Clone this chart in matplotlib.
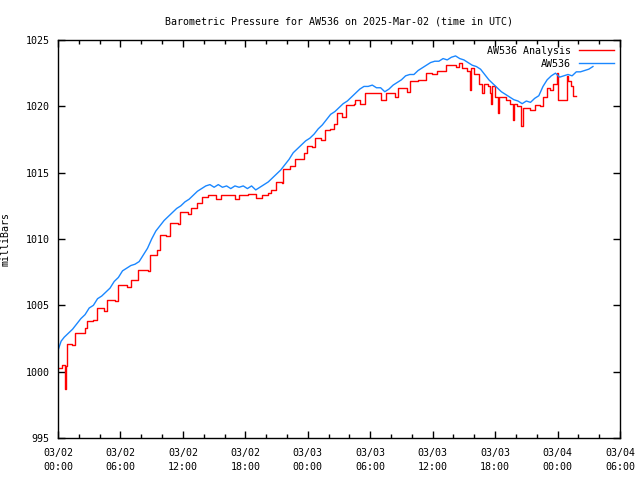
import numpy as np
import matplotlib
matplotlib.use('Agg')
import matplotlib.pyplot as plt
from matplotlib.ticker import MultipleLocator

# hours since 03/02 00:00 UTC, pressure in mb
obs_h = [0.0, 0.3, 0.6, 1.0, 1.4, 1.8, 2.2, 2.6, 3.0, 3.4, 3.8, 4.2, 4.6, 5.0, 5.4, 5.8,
         6.2, 6.6, 7.0, 7.4, 7.8, 8.2, 8.6, 9.0, 9.4, 9.8, 10.2, 10.6, 11.0, 11.4, 11.8,
         12.2, 12.6, 13.0, 13.4, 13.8, 14.2, 14.6, 15.0, 15.4, 15.8, 16.2, 16.6, 17.0,
         17.4, 17.8, 18.2, 18.6, 19.0, 19.4, 19.8, 20.2, 20.6, 21.0, 21.4, 21.8, 22.2,
         22.6, 23.0, 23.4, 23.8, 24.2, 24.6, 25.0, 25.4, 25.8, 26.2, 26.6, 27.0, 27.4,
         27.8, 28.2, 28.6, 29.0, 29.4, 29.8, 30.2, 30.6, 31.0, 31.4, 31.8, 32.2, 32.6,
         33.0, 33.4, 33.8, 34.2, 34.6, 35.0, 35.4, 35.8, 36.2, 36.6, 37.0, 37.4, 37.8,
         38.2, 38.6, 39.0, 39.4, 39.8, 40.2, 40.6, 41.0, 41.4, 41.8, 42.2, 42.6, 43.0,
         43.4, 43.8, 44.2, 44.6, 45.0, 45.4, 45.8, 46.2, 46.6, 47.0, 47.4, 47.8, 48.2,
         48.6, 49.0, 49.4, 49.8, 50.2, 50.6, 51.0, 51.4]
obs_p = [1001.6, 1002.3, 1002.6, 1002.9, 1003.2, 1003.6, 1004.0, 1004.3, 1004.8, 1005.0,
         1005.5, 1005.7, 1006.0, 1006.3, 1006.8, 1007.1, 1007.6, 1007.8, 1008.0, 1008.1,
         1008.3, 1008.8, 1009.3, 1010.0, 1010.6, 1011.0, 1011.4, 1011.7, 1012.0, 1012.3,
         1012.5, 1012.8, 1013.0, 1013.3, 1013.6, 1013.8, 1014.0, 1014.1, 1013.9, 1014.1,
         1013.9, 1014.0, 1013.8, 1014.0, 1013.9, 1014.0, 1013.8, 1014.0, 1013.7, 1013.9,
         1014.1, 1014.3, 1014.6, 1014.9, 1015.2, 1015.6, 1016.0, 1016.5, 1016.8, 1017.1,
         1017.4, 1017.6, 1017.9, 1018.3, 1018.6, 1019.0, 1019.4, 1019.6, 1019.9, 1020.2,
         1020.4, 1020.7, 1021.0, 1021.3, 1021.5, 1021.5, 1021.6, 1021.4, 1021.4, 1021.1,
         1021.3, 1021.6, 1021.8, 1022.0, 1022.3, 1022.4, 1022.4, 1022.7, 1022.9, 1023.1,
         1023.3, 1023.4, 1023.4, 1023.6, 1023.5, 1023.7, 1023.8, 1023.6, 1023.5, 1023.3,
         1023.1, 1023.0, 1022.8, 1022.4, 1022.0, 1021.7, 1021.4, 1021.1, 1020.9, 1020.7,
         1020.5, 1020.4, 1020.2, 1020.4, 1020.3, 1020.6, 1020.8, 1021.5, 1022.0, 1022.3,
         1022.5, 1022.2, 1022.3, 1022.4, 1022.3, 1022.6, 1022.6, 1022.7, 1022.8, 1023.0]

ana_h = [0.0, 0.4, 0.65, 0.75, 0.85, 1.3, 1.6, 2.6, 2.75, 3.4, 3.7, 4.4, 4.7, 5.5, 5.8,
         6.6, 7.0, 7.7, 8.6, 8.8, 9.5, 9.8, 10.4, 10.8, 11.5, 11.7, 12.5, 12.8, 13.4,
         13.8, 14.4, 15.2, 15.7, 16.6, 17.0, 17.4, 18.3, 19.0, 19.6, 20.2, 20.5, 20.9,
         21.5, 21.65, 22.3, 22.8, 23.6, 23.9, 24.4, 24.7, 25.3, 25.7, 26.1, 26.5, 26.8,
         27.3, 27.7, 28.4, 28.5, 29.0, 29.5, 30.6, 31.0, 31.5, 32.4, 32.7, 33.5, 33.8,
         34.6, 35.4, 35.9, 36.4, 37.3, 38.2, 38.5, 38.8, 39.3, 39.55, 39.65, 40.0, 40.5,
         40.7, 40.9, 41.3, 41.5, 41.6, 41.7, 42.0, 42.3, 42.4, 43.0, 43.4, 43.7, 43.8,
         44.1, 44.5, 44.65, 45.4, 45.8, 46.3, 46.6, 47.0, 47.3, 47.6, 47.9, 48.05, 48.9,
         49.0, 49.3, 49.5, 49.8]
ana_p = [1000.3, 1000.5, 998.7, 1000.4, 1002.1, 1002.0, 1002.9, 1003.3, 1003.8, 1003.9,
         1004.8, 1004.6, 1005.4, 1005.3, 1006.5, 1006.4, 1006.9, 1007.7, 1007.6, 1008.8,
         1009.2, 1010.3, 1010.2, 1011.2, 1011.1, 1012.0, 1011.9, 1012.3, 1012.7, 1013.2,
         1013.3, 1013.0, 1013.3, 1013.3, 1013.0, 1013.3, 1013.4, 1013.1, 1013.3, 1013.5,
         1013.7, 1014.3, 1014.2, 1015.3, 1015.5, 1016.0, 1016.5, 1017.0, 1016.9, 1017.6,
         1017.5, 1018.2, 1018.3, 1018.7, 1019.5, 1019.2, 1020.1, 1020.2, 1020.5, 1020.2,
         1021.0, 1021.0, 1020.5, 1021.0, 1020.7, 1021.4, 1021.1, 1021.9, 1022.0, 1022.5,
         1022.4, 1022.7, 1023.1, 1023.0, 1023.3, 1022.9, 1022.7, 1021.2, 1022.9, 1022.4,
         1021.7, 1021.0, 1021.7, 1021.5, 1021.0, 1020.2, 1021.5, 1020.7, 1019.5, 1020.7,
         1020.5, 1020.2, 1019.0, 1020.2, 1020.0, 1018.5, 1019.9, 1019.7, 1020.1, 1020.0,
         1020.7, 1021.4, 1021.2, 1021.7, 1022.5, 1020.5, 1022.3, 1021.9, 1021.5, 1020.8,
         1020.8]

xtick_labels = ['03/02\n00:00', '03/02\n06:00', '03/02\n12:00', '03/02\n18:00',
                '03/03\n00:00', '03/03\n06:00', '03/03\n12:00', '03/03\n18:00',
                '03/04\n00:00', '03/04\n06:00']

plt.rcParams['font.family'] = 'DejaVu Sans Mono'
plt.rcParams['font.size'] = 7.2

fig = plt.figure(figsize=(6.4, 4.8), dpi=100)
ax = fig.add_axes([58/640, 42/480, 562/640, 398/480])

ax.plot(ana_h, ana_p, color='#ff0000', lw=1.0, drawstyle='steps-post', label='AW536 Analysis')
ax.plot(obs_h, obs_p, color='#1a87ff', lw=1.0, label='AW536')

ax.set_xlim(0, 54)
ax.set_ylim(995, 1025)
ax.xaxis.set_minor_locator(MultipleLocator(2))
ax.set_xticks(np.arange(0, 55, 6))
ax.set_xticklabels(xtick_labels, linespacing=1.5)
ax.yaxis.set_major_locator(MultipleLocator(5))
ax.tick_params(which='both', direction='in', top=True, right=True, width=1)
ax.tick_params(which='major', length=5)
ax.tick_params(which='minor', length=3)
ax.tick_params(axis='x', pad=7)
ax.tick_params(axis='y', pad=6)
for s in ax.spines.values():
    s.set_linewidth(1)

ax.set_ylabel('milliBars')
ax.yaxis.set_label_coords(-0.085, 0.5)
ax.set_title('Barometric Pressure for AW536 on 2025-Mar-02 (time in UTC)',
             fontsize=7.2, pad=11)

leg = ax.legend(loc='upper right', frameon=False, handlelength=3.5, markerfirst=False,
                borderaxespad=0.2, labelspacing=0.3, handletextpad=0.8)

fig.savefig('out.png')
